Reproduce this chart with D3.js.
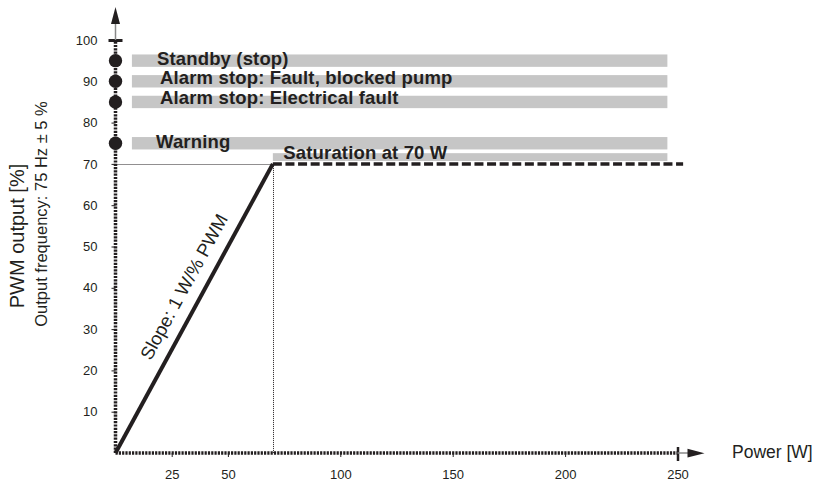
<!DOCTYPE html>
<html>
<head>
<meta charset="utf-8">
<script src="https://cdn.jsdelivr.net/npm/d3@7"></script>
<style>
  html, body { margin: 0; padding: 0; background: #fff; }
  svg { display: block; font-family: "Liberation Sans", Arial, Helvetica, sans-serif; }
</style>
</head>
<body>
<svg id="chart" width="821" height="483"></svg>
<script>
// ---- data ----
const xTickValues = [25, 50, 100, 150, 200, 250];
const yTickValues = [10, 20, 30, 40, 50, 60, 70, 80, 90, 100];

// status bands: label, centre PWM %, half height (%), start power (W)
const bandLabels  = ["Standby (stop)", "Alarm stop: Fault, blocked pump", "Alarm stop: Electrical fault", "Warning"];
const bandCentres = [95, 90, 85, 75];
const bandHalf    = 1.5;
const bandStartW  = 7.3;
const bandEndW    = 245.5;

// saturation band above the flat part of the curve
const satLabel    = "Saturation at 70 W";
const satBandLo   = 70.7;
const satBandHi   = 72.6;

// PWM response: linear ramp up to 70 W, then flat
const rampPoints  = [[0, 0], [70, 70]];
const flatPoints  = [[70, 70], [252.5, 70]];
const satPoint    = [70, 70];

const slopeLabel  = "Slope: 1 W/% PWM";
const xTitle      = "Power [W]";
const yTitle1     = "PWM output [%]";
const yTitle2     = "Output frequency: 75 Hz \u00b1 5 %";

// ---- drawing ----
const ink = "#231f20";
const svg = d3.select("#chart");

const x = d3.scaleLinear().domain([0, 250]).range([115.5, 677.5]);
const y = d3.scaleLinear().domain([0, 100]).range([453, 40]);

// grey status bands
svg.append("g").selectAll("rect")
  .data(bandCentres)
  .join("rect")
  .attr("x", x(bandStartW))
  .attr("width", x(bandEndW) - x(bandStartW))
  .attr("y", d => y(d + bandHalf))
  .attr("height", d => y(d - bandHalf) - y(d + bandHalf))
  .attr("fill", "#c6c6c6");

svg.append("rect")
  .attr("x", x(satPoint[0]))
  .attr("width", x(bandEndW) - x(satPoint[0]))
  .attr("y", y(satBandHi))
  .attr("height", y(satBandLo) - y(satBandHi))
  .attr("fill", "#c6c6c6");

// thin dotted guides to the saturation point
const guides = svg.append("g")
  .attr("stroke", ink).attr("stroke-width", 1).attr("stroke-dasharray", "1,1").attr("fill", "none");
guides.append("line")
  .attr("x1", x(0)).attr("x2", x(satPoint[0]))
  .attr("y1", Math.round(y(satPoint[1])) + 0.5).attr("y2", Math.round(y(satPoint[1])) + 0.5);
guides.append("line")
  .attr("x1", Math.round(x(satPoint[0])) + 0.5).attr("x2", Math.round(x(satPoint[0])) + 0.5)
  .attr("y1", y(satPoint[1])).attr("y2", y(0));

const line = d3.line().x(d => x(d[0])).y(d => y(d[1]));

// response curve
svg.append("path")
  .attr("d", line(rampPoints))
  .attr("fill", "none").attr("stroke", ink).attr("stroke-width", 4);
svg.append("path")
  .attr("d", line(flatPoints))
  .attr("fill", "none").attr("stroke", ink).attr("stroke-width", 3.5)
  .attr("stroke-dasharray", "9,3.6");

// x axis
const xAxis = svg.append("g")
  .attr("transform", `translate(0,${y(0)})`)
  .call(d3.axisBottom(x).tickValues(xTickValues).tickSize(4).tickPadding(13).tickFormat(d3.format("d")));
xAxis.select(".domain").remove();
xAxis.selectAll(".tick line").attr("stroke", ink).attr("stroke-width", 1);
xAxis.selectAll(".tick text").attr("fill", ink).attr("font-size", 13)
  .attr("font-family", "Liberation Sans, Arial, sans-serif");
xAxis.selectAll(".tick").filter(d => d === 250).select("line")
  .attr("y1", -6).attr("y2", 8).attr("stroke-width", 2.5);

svg.append("line")
  .attr("x1", x(0)).attr("x2", x(250)).attr("y1", y(0)).attr("y2", y(0))
  .attr("stroke", ink).attr("stroke-width", 3.5).attr("stroke-dasharray", "2.2,1.1");
svg.append("line")
  .attr("x1", x(250)).attr("x2", x(250) + 12).attr("y1", y(0)).attr("y2", y(0))
  .attr("stroke", "#888").attr("stroke-width", 1.5);
svg.append("path")
  .attr("d", `M${x(250) + 10},${y(0) - 4.3}L${x(250) + 27},${y(0) + 0.3}L${x(250) + 10},${y(0) + 4.6}Z`)
  .attr("fill", ink);

// y axis
const yAxis = svg.append("g")
  .attr("transform", `translate(${x(0)},0)`)
  .call(d3.axisLeft(y).tickValues(yTickValues).tickSize(4).tickPadding(14).tickFormat(d3.format("d")));
yAxis.select(".domain").remove();
yAxis.selectAll(".tick line").attr("stroke", ink).attr("stroke-width", 1);
yAxis.selectAll(".tick text").attr("fill", ink).attr("font-size", 13)
  .attr("font-family", "Liberation Sans, Arial, sans-serif");
yAxis.selectAll(".tick").filter(d => d === 100).select("line")
  .attr("x1", -7).attr("x2", 7).attr("stroke-width", 3);

svg.append("line")
  .attr("x1", x(0)).attr("x2", x(0)).attr("y1", y(0)).attr("y2", y(100))
  .attr("stroke", ink).attr("stroke-width", 3.5).attr("stroke-dasharray", "2.2,1.1");
svg.append("line")
  .attr("x1", x(0)).attr("x2", x(0)).attr("y1", y(100)).attr("y2", y(100) - 17)
  .attr("stroke", "#888").attr("stroke-width", 1.5);
svg.append("path")
  .attr("d", `M${x(0) - 4.5},${y(100) - 16}L${x(0)},${y(100) - 33}L${x(0) + 4.5},${y(100) - 16}Z`)
  .attr("fill", ink);

// status markers on the y axis
svg.append("g").selectAll("circle")
  .data(bandCentres)
  .join("circle")
  .attr("cx", x(0)).attr("cy", d => y(d)).attr("r", 6.7)
  .attr("fill", ink);

// band labels
const labelDx = [41.5, 44.5, 44.5, 40.5];
const labelDy = [4, 3, 2.5, 4.8];
svg.append("g").selectAll("text")
  .data(bandLabels)
  .join("text")
  .attr("x", (d, i) => x(0) + labelDx[i])
  .attr("y", (d, i) => y(bandCentres[i]) + labelDy[i])
  .attr("font-size", 18.5).attr("font-weight", "bold").attr("fill", ink)
  .attr("letter-spacing", 0.15)
  .text(d => d);

svg.append("text")
  .attr("x", x(satPoint[0]) + 10.5).attr("y", y(satBandLo) - 2)
  .attr("font-size", 18.5).attr("font-weight", "bold").attr("fill", ink)
  .attr("letter-spacing", 0.15)
  .text(satLabel);

// slope annotation, parallel to the ramp
const p0 = [x(rampPoints[0][0]), y(rampPoints[0][1])];
const p1 = [x(rampPoints[1][0]), y(rampPoints[1][1])];
const ang = Math.atan2(p1[1] - p0[1], p1[0] - p0[0]) * 180 / Math.PI;
const mid = [x(38), y(38)];
const rad = ang * Math.PI / 180;
const off = 13;
const nx = Math.sin(rad) * off, ny = -Math.cos(rad) * off;
svg.append("text")
  .attr("transform", `translate(${mid[0] + nx},${mid[1] + ny}) rotate(${ang})`)
  .attr("text-anchor", "middle")
  .attr("font-size", 18.5).attr("fill", ink)
  .text(slopeLabel);

// axis titles
svg.append("text")
  .attr("x", 732).attr("y", 458)
  .attr("font-size", 17.5).attr("fill", ink)
  .text(xTitle);

svg.append("text")
  .attr("transform", "translate(24,236) rotate(-90)")
  .attr("text-anchor", "middle")
  .attr("font-size", 20).attr("fill", ink)
  .text(yTitle1);

svg.append("text")
  .attr("transform", "translate(46.5,214) rotate(-90)")
  .attr("text-anchor", "middle")
  .attr("font-size", 16.5).attr("fill", ink)
  .text(yTitle2);
</script>
</body>
</html>
